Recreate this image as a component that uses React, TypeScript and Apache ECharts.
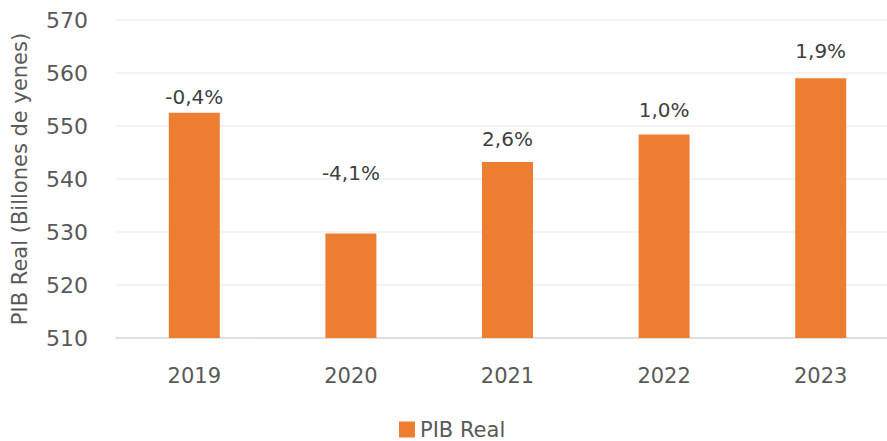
import React, { useEffect, useRef } from "react";
import * as echarts from "echarts";

const categories = ["2019", "2020", "2021", "2022", "2023"];
const pibReal = [552.5, 529.7, 543.2, 548.4, 559.0];
const growthLabels = ["-0,4%", "-4,1%", "2,6%", "1,0%", "1,9%"];
const labelOffsets = [-1, -46, -8, -9, -12];

export default function App() {
  const ref = useRef<HTMLDivElement>(null);
  useEffect(() => {
    const chart = echarts.init(ref.current!, null, { renderer: "svg" });
    const font = "'DejaVu Sans', sans-serif";
    chart.setOption({
      animation: false,
      textStyle: { fontFamily: font },
      grid: { left: 116, top: 20, width: 783, height: 318, containLabel: false },
      legend: {
        data: ["PIB Real"],
        left: 394,
        top: 414,
        itemWidth: 16,
        itemHeight: 16,
        itemGap: 6,
        icon: "rect",
        textStyle: { fontSize: 21, lineHeight: 20, color: "#595959", fontFamily: font },
      },
      xAxis: {
        type: "category",
        data: categories,
        axisTick: { show: false },
        axisLine: { lineStyle: { color: "#d9d9d9", width: 1.5 } },
        axisLabel: { fontSize: 21, color: "#595959", margin: 27, fontFamily: font },
      },
      yAxis: {
        type: "value",
        min: 510,
        max: 570,
        interval: 10,
        name: "PIB Real (Billones de yenes)",
        nameLocation: "middle",
        nameGap: 86,
        nameTextStyle: { fontSize: 21, color: "#595959", fontFamily: font },
        axisLine: { show: false },
        axisTick: { show: false },
        axisLabel: { fontSize: 22, color: "#595959", margin: 28, fontFamily: font },
        splitLine: { lineStyle: { color: "#f0f0f0", width: 1.5 } },
      },
      series: [
        {
          name: "PIB Real",
          type: "bar",
          barWidth: 51,
          itemStyle: { color: "#ED7D31" },
          data: pibReal.map((v, i) => ({
            value: v,
            label: {
              show: true,
              position: "top",
              offset: [0, labelOffsets[i]],
              formatter: growthLabels[i],
              fontSize: 20,
              color: "#404040",
              fontFamily: font,
            },
          })),
        },
      ],
    });
    return () => chart.dispose();
  }, []);
  return (
    <div style={{ width: 887, height: 441, position: "absolute", left: 0, top: 0, overflow: "hidden" }}>
      <div ref={ref} style={{ width: 900, height: 441 }} />
    </div>
  );
}
